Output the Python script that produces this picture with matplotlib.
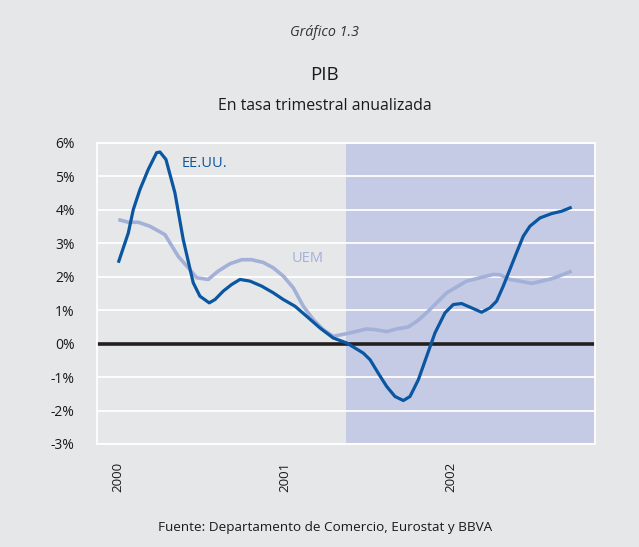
import matplotlib
matplotlib.use("Agg")
import matplotlib.pyplot as plt

# Data (decimal years, % annualized quarterly rate)
us_x = [2000.002, 2000.062, 2000.092, 2000.132, 2000.182, 2000.232, 2000.252, 2000.288,
        2000.342, 2000.392, 2000.452, 2000.492, 2000.548, 2000.583, 2000.632, 2000.683,
        2000.733, 2000.793, 2000.863, 2000.933, 2000.993, 2001.063, 2001.133, 2001.213,
        2001.293, 2001.374, 2001.473, 2001.514, 2001.563, 2001.614, 2001.664, 2001.714,
        2001.754, 2001.804, 2001.854, 2001.904, 2001.964, 2002.014, 2002.064, 2002.124,
        2002.184, 2002.234, 2002.274, 2002.314, 2002.354, 2002.394, 2002.434, 2002.474,
        2002.535, 2002.605, 2002.665, 2002.725]
us_y = [2.42, 3.31, 4.01, 4.61, 5.21, 5.71, 5.73, 5.51,
        4.51, 3.11, 1.82, 1.42, 1.22, 1.32, 1.57, 1.77,
        1.92, 1.87, 1.72, 1.52, 1.32, 1.12, 0.82, 0.47,
        0.17, 0.02, -0.28, -0.48, -0.88, -1.28, -1.58, -1.70,
        -1.58, -1.08, -0.38, 0.32, 0.92, 1.17, 1.20, 1.07,
        0.94, 1.07, 1.27, 1.72, 2.22, 2.72, 3.21, 3.51,
        3.76, 3.89, 3.96, 4.08]

uem_x = [2000.002, 2000.062, 2000.122, 2000.192, 2000.282, 2000.362, 2000.422, 2000.473,
         2000.542, 2000.602, 2000.673, 2000.743, 2000.803, 2000.872, 2000.932, 2000.993,
         2001.053, 2001.113, 2001.173, 2001.233, 2001.293, 2001.374, 2001.494, 2001.544,
         2001.614, 2001.674, 2001.744, 2001.804, 2001.874, 2001.974, 2002.094, 2002.174,
         2002.254, 2002.294, 2002.354, 2002.414, 2002.485, 2002.545, 2002.605, 2002.665,
         2002.725]
uem_y = [3.71, 3.63, 3.63, 3.51, 3.26, 2.61, 2.27, 1.97,
         1.92, 2.17, 2.39, 2.51, 2.51, 2.43, 2.27, 2.02,
         1.67, 1.12, 0.72, 0.42, 0.22, 0.30, 0.44, 0.42,
         0.36, 0.44, 0.50, 0.70, 1.02, 1.52, 1.87, 1.97,
         2.07, 2.06, 1.92, 1.87, 1.80, 1.87, 1.94, 2.05,
         2.17]

y_ticks = [-3, -2, -1, 0, 1, 2, 3, 4, 5, 6]
y_labels = ["-3%", "-2%", "-1%", "0%", "1%", "2%", "3%", "4%", "5%", "6%"]
x_ticks = [2000, 2001, 2002]
x_labels = ["2000", "2001", "2002"]
shade_start = 2001.369

plt.rcParams['font.family'] = ['Open Sans', 'DejaVu Sans']

BG = "#e6e7e8"
SHADE = "#c5cbe5"
US_C = "#0a56a0"
UEM_C = "#a3b0d8"
TXT = "#1a1a1a"

fig = plt.figure(figsize=(6.39, 5.47), dpi=100, facecolor=BG)
ax = fig.add_axes([0.1518, 0.1883, 0.7793, 0.5503], facecolor=BG)

ax.set_xlim(1999.874, 2002.865)
ax.set_ylim(-3, 6)
ax.axvspan(shade_start, 2002.865, color=SHADE, zorder=0, lw=0)
for t in y_ticks:
    ax.axhline(t, color="white", lw=1.3, zorder=1)
ax.axhline(0, color="#231f20", lw=2.6, zorder=2)

ax.plot(uem_x, uem_y, color=UEM_C, lw=2.6, zorder=3, solid_capstyle="butt")
ax.plot(us_x, us_y, color=US_C, lw=2.3, zorder=4, solid_capstyle="butt")

for s in ax.spines.values():
    s.set_color("white")
    s.set_linewidth(1.3)

ax.set_yticks(y_ticks)
ax.set_yticklabels(y_labels, fontsize=10, color=TXT)
ax.set_xticks(x_ticks)
ax.set_xticklabels(x_labels, rotation=90, fontsize=9.5, color=TXT, va="top")
ax.tick_params(axis='y', length=0, pad=16)
ax.tick_params(axis='x', length=0, pad=13)

ax.text(2000.385, 5.4, "EE.UU.", color=US_C, fontsize=10.5, ha="left", va="center")
ax.text(2001.04, 2.55, "UEM", color=UEM_C, fontsize=10.5, ha="left", va="center")

fig.text(0.508, 1 - 33 / 547, "Gráfico 1.3", ha="center", va="center", fontsize=10.3, style="italic", color="#333333")
fig.text(0.508, 1 - 75 / 547, "PIB", ha="center", va="center", fontsize=13.5, color=TXT)
fig.text(0.508, 1 - 106 / 547, "En tasa trimestral anualizada", ha="center", va="center", fontsize=11.4, color=TXT)
fig.text(0.508, 1 - 527 / 547, "Fuente: Departamento de Comercio, Eurostat y BBVA", ha="center", va="center", fontsize=9.7, color=TXT)

fig.savefig("out.png", dpi=100, facecolor=BG)
